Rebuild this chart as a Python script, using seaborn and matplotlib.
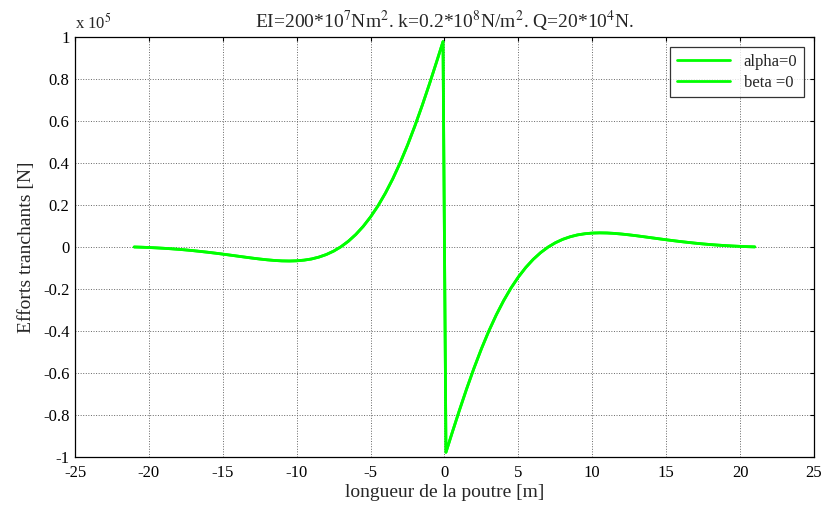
import numpy as np
import pandas as pd
import matplotlib
matplotlib.use("Agg")
import matplotlib.pyplot as plt
import seaborn as sns

sns.set_style("white")
plt.rcParams['font.family'] = ['Liberation Serif', 'DejaVu Serif']
plt.rcParams['mathtext.fontset'] = 'stix'
plt.rcParams['axes.unicode_minus'] = False

# position along the beam [m]
x_m = [-21.0, -20.5, -20.0, -19.5, -19.0, -18.5, -18.0, -17.5, -17.0, -16.5,
       -16.0, -15.5, -15.0, -14.5, -14.0, -13.5, -13.0, -12.5, -12.0, -11.5,
       -11.0, -10.5, -10.0, -9.5, -9.0, -8.5, -8.0, -7.5, -7.0, -6.5,
       -6.0, -5.5, -5.0, -4.5, -4.0, -3.5, -3.0, -2.5, -2.0, -1.5,
       -1.0, -0.5, -0.1,
       0.1, 0.5, 1.0, 1.5, 2.0, 2.5, 3.0, 3.5, 4.0, 4.5,
       5.0, 5.5, 6.0, 6.5, 7.0, 7.5, 8.0, 8.5, 9.0, 9.5,
       10.0, 10.5, 11.0, 11.5, 12.0, 12.5, 13.0, 13.5, 14.0, 14.5,
       15.0, 15.5, 16.0, 16.5, 17.0, 17.5, 18.0, 18.5, 19.0, 19.5,
       20.0, 20.5, 21.0]

# shear force [x 10^5 N]
v_shear = [-0.0002, -0.0013, -0.0027, -0.0044, -0.0064, -0.0087, -0.0113, -0.0143, -0.0177, -0.0215,
           -0.0254, -0.0297, -0.0342, -0.0389, -0.0437, -0.0485, -0.0532, -0.0575, -0.0613, -0.0644,
           -0.0664, -0.0670, -0.0660, -0.0628, -0.0573, -0.0484, -0.0362, -0.0198, 0.0012, 0.0274,
           0.0594, 0.0978, 0.1431, 0.1956, 0.2560, 0.3242, 0.4005, 0.4847, 0.5765, 0.6752,
           0.7797, 0.8886, 0.9776,
           -0.9776, -0.8886, -0.7797, -0.6752, -0.5765, -0.4847, -0.4005, -0.3242, -0.2560, -0.1956,
           -0.1431, -0.0978, -0.0594, -0.0274, -0.0012, 0.0198, 0.0362, 0.0484, 0.0573, 0.0628,
           0.0660, 0.0670, 0.0664, 0.0644, 0.0613, 0.0575, 0.0532, 0.0485, 0.0437, 0.0389,
           0.0342, 0.0297, 0.0254, 0.0215, 0.0177, 0.0143, 0.0113, 0.0087, 0.0064, 0.0044,
           0.0027, 0.0013, 0.0002]

series = ['alpha=0', 'beta =0']

df = pd.concat([pd.DataFrame({'x': x_m, 'V': v_shear, 'cas': s}) for s in series],
               ignore_index=True)

fig = plt.figure(figsize=(8.21, 5.08), dpi=100)
ax = fig.add_axes([0.0914, 0.1004, 0.900, 0.827])

sns.lineplot(data=df, x='x', y='V', hue='cas', palette=['#00ff00', '#00ff00'],
             linewidth=2, sort=False, estimator=None, ax=ax)

ax.set_xlim(-25, 25)
ax.set_ylim(-1, 1)
ax.set_xticks(np.arange(-25, 26, 5))
ax.set_yticks(np.arange(-1, 1.01, 0.2))
ax.set_yticklabels(['-1', '-0.8', '-0.6', '-0.4', '-0.2', '0', '0.2', '0.4', '0.6', '0.8', '1'])
ax.tick_params(direction='in', length=3, width=0.8, top=True, right=True,
               labelsize=12, colors='black')
ax.tick_params(axis='x', pad=6)
ax.tick_params(axis='y', pad=4)
ax.grid(True, color='0.4', linestyle=':', linewidth=0.7)
for sp in ax.spines.values():
    sp.set_color('black')
    sp.set_linewidth(0.9)

ax.set_xlabel('longueur de la poutre [m]', fontsize=14, labelpad=2)
ax.set_ylabel('Efforts tranchants [N]', fontsize=14, labelpad=6)
ax.set_title(r'EI=200*10$^{7}$Nm$^{2}$. k=0.2*10$^{8}$N/m$^{2}$. Q=20*10$^{4}$N.',
             fontsize=14, pad=6)
ax.text(0.0, 1.01, r'x 10$^{5}$', transform=ax.transAxes, fontsize=12,
        ha='left', va='bottom')

leg = ax.legend(loc='upper right', fontsize=12, frameon=True, fancybox=False,
                edgecolor='black', borderaxespad=0.6, handlelength=3.2,
                labelspacing=0.3, borderpad=0.4)
leg.get_frame().set_linewidth(0.9)

fig.savefig('out.png', dpi=100, facecolor='white')
